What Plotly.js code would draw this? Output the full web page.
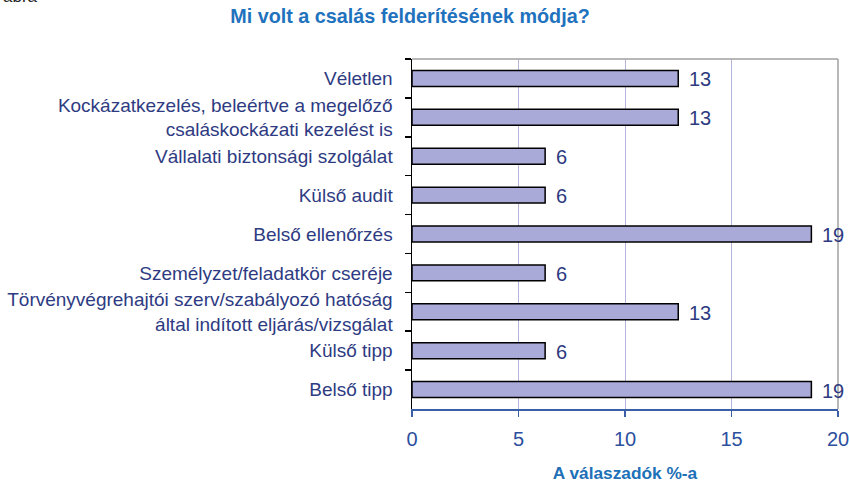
<!DOCTYPE html>
<html>
<head>
<meta charset="utf-8">
<script src="https://cdn.plot.ly/plotly-3.0.1.min.js"></script>
<style>html,body{margin:0;padding:0;background:#fff;}#chart{width:849px;height:483px;}</style>
</head>
<body>
<div id="chart"></div>
<script>
const categories = [
  "Véletlen",
  "Kockázatkezelés, beleértve a megelőző<br>csaláskockázati kezelést is",
  "Vállalati biztonsági szolgálat",
  "Külső audit",
  "Belső ellenőrzés",
  "Személyzet/feladatkör cseréje",
  "Törvényvégrehajtói szerv/szabályozó hatóság<br>által indított eljárás/vizsgálat",
  "Külső tipp",
  "Belső tipp"
];
const values = [12.5, 12.5, 6.25, 6.25, 18.75, 6.25, 12.5, 6.25, 18.75];
const valueLabels = ["13", "13", "6", "6", "19", "6", "13", "6", "19"];
const xTicks = [0, 5, 10, 15, 20];

const trace = {
  type: "bar",
  orientation: "h",
  x: values,
  y: categories,
  width: 0.41,
  marker: {color: "#a9aad8", line: {color: "#000000", width: 1.5}},
  hoverinfo: "none"
};

const annotations = categories.map((c, i) => ({
  x: values[i], y: c, xref: "x", yref: "y",
  text: valueLabels[i], showarrow: false,
  xanchor: "left", yanchor: "middle", xshift: 9, yshift: -1,
  font: {family: "Liberation Sans, Arial, sans-serif", size: 20, color: "#2d3a80"}
}));
annotations.push({
  xref: "paper", yref: "paper", x: -412/427, y: 1 + (59 + 4) / 350,
  xanchor: "left", yanchor: "middle", showarrow: false,
  text: "ábra",
  font: {family: "Liberation Sans, Arial, sans-serif", size: 17, color: "#222222"}
});

const layout = {
  width: 849, height: 483,
  margin: {l: 412, r: 11, t: 59, b: 74},
  paper_bgcolor: "#ffffff", plot_bgcolor: "#ffffff",
  showlegend: false,
  title: {
    text: "<b>Mi volt a csalás felderítésének módja?</b>",
    x: 410/849, xanchor: "center", xref: "container",
    y: 1 - 16/483, yanchor: "middle", yref: "container",
    font: {family: "Liberation Sans, Arial, sans-serif", size: 19.8, color: "#1f72bd"}
  },
  xaxis: {
    range: [0, 20], tickvals: xTicks, ticktext: xTicks.map(String),
    showgrid: true, gridcolor: "#b4b4dc", gridwidth: 1,
    zeroline: false,
    showline: true, linecolor: "#3a5ea8", linewidth: 2,
    ticks: "outside", ticklen: 6, tickcolor: "#3a5ea8", tickwidth: 1.5,
    ticklabelstandoff: 5,
    ticklabeloverflow: "allow",
    tickfont: {family: "Liberation Sans, Arial, sans-serif", size: 20, color: "#2c4f9e"},
    title: {
      text: "<b>A válaszadók %-a</b>", standoff: 20,
      font: {family: "Liberation Sans, Arial, sans-serif", size: 17.3, color: "#2070b8"}
    },
    fixedrange: true
  },
  yaxis: {
    type: "category", categoryorder: "array", categoryarray: categories,
    autorange: "reversed",
    showgrid: false, zeroline: false,
    showline: true, linecolor: "#000000", linewidth: 1.5,
    ticks: "outside", ticklen: 6, tickcolor: "#000000", tickwidth: 1.5,
    tickson: "boundaries",
    ticklabelstandoff: 14,
    tickfont: {family: "Liberation Sans, Arial, sans-serif", size: 19, color: "#2e3b82"},
    fixedrange: true
  },
  shapes: [
    {type: "line", xref: "paper", yref: "paper", x0: 0, x1: 1, y0: 1, y1: 1, line: {color: "#a0a0a0", width: 1.5}},
    {type: "line", xref: "paper", yref: "paper", x0: 1, x1: 1, y0: 0, y1: 1, line: {color: "#a0a0a0", width: 1.5}}
  ],
  annotations: annotations
};

Plotly.newPlot("chart", [trace], layout, {displayModeBar: false, staticPlot: true});
</script>
</body>
</html>
